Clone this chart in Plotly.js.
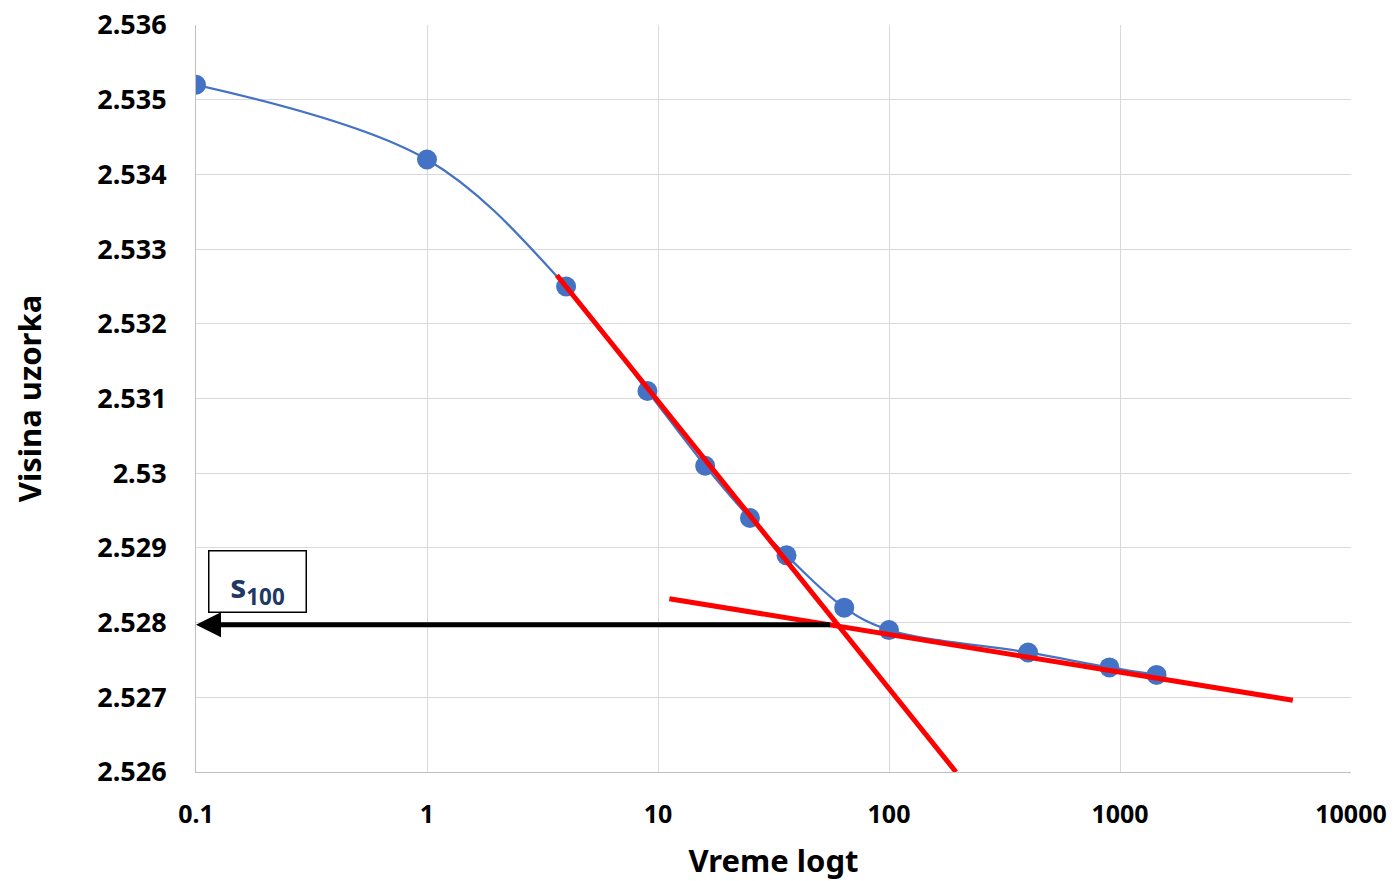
<!DOCTYPE html>
<html>
<head>
<meta charset="utf-8">
<script src="https://cdn.plot.ly/plotly-3.0.1.min.js"></script>
<style>html,body{margin:0;padding:0;background:#fff;}#chart{width:1395px;height:881px;}</style>
</head>
<body>
<div id="chart"></div>
<script>
// Data points (time, sample height)
const timeVals = [0.1, 1, 4, 9, 16, 25, 36, 64, 100, 400, 900, 1440];
const heightVals = [2.5352, 2.5342, 2.5325, 2.5311, 2.5301, 2.5294, 2.5289, 2.5282, 2.5279, 2.5276, 2.5274, 2.5273];

// Tangent lines (red)
const steepX = [3.65, 195];
const steepY = [2.53265, 2.526];
const flatX = [11.2, 5600];
const flatY = [2.52832, 2.52696];

// Arrow to s100
const arrowFromX = 57.3;
const arrowToX = 0.1;
const arrowY = 2.52797;

// Tick labels
const xTickVals = [0.1, 1, 10, 100, 1000, 10000];
const xTickText = ["0.1", "1", "10", "100", "1000", "10000"];
const yTickVals = [2.526, 2.527, 2.528, 2.529, 2.53, 2.531, 2.532, 2.533, 2.534, 2.535, 2.536];
const yTickText = ["2.526", "2.527", "2.528", "2.529", "2.53", "2.531", "2.532", "2.533", "2.534", "2.535", "2.536"];

const FONT = "Noto Sans, Open Sans, sans-serif";

const traces = [
  {
    x: timeVals, y: heightVals, type: 'scatter', mode: 'lines+markers',
    line: {color: '#4472C4', width: 2.25, shape: 'spline', smoothing: 1},
    marker: {color: '#4472C4', size: 20},
    showlegend: false, hoverinfo: 'x+y'
  },
  {
    x: steepX, y: steepY, type: 'scatter', mode: 'lines',
    line: {color: '#FF0000', width: 5},
    showlegend: false
  },
  {
    x: flatX, y: flatY, type: 'scatter', mode: 'lines',
    line: {color: '#FF0000', width: 5},
    showlegend: false
  }
];

const layout = {
  width: 1395, height: 881,
  margin: {l: 196, r: 44, t: 25, b: 109},
  paper_bgcolor: '#fff', plot_bgcolor: '#fff',
  font: {family: FONT, color: '#000'},
  xaxis: {
    type: 'log', range: [-1, 4],
    tickvals: xTickVals, ticktext: xTickText,
    tickfont: {family: FONT, size: 25, color: '#000', weight: 'bold'},
    showgrid: true, gridcolor: '#d9d9d9', gridwidth: 1,
    showline: true, linecolor: '#bfbfbf', linewidth: 1,
    ticks: 'outside', ticklen: 20, tickcolor: 'rgba(0,0,0,0)',
    zeroline: false,
    title: {text: 'Vreme logt', font: {family: FONT, size: 31, color: '#000', weight: 'bold'}, standoff: 22}
  },
  yaxis: {
    range: [2.526, 2.536],
    tickvals: yTickVals, ticktext: yTickText,
    tickfont: {family: FONT, size: 27, color: '#000', weight: 'bold'},
    showgrid: true, gridcolor: '#d9d9d9', gridwidth: 1,
    showline: true, linecolor: '#bfbfbf', linewidth: 1,
    ticks: 'outside', ticklen: 23, tickcolor: 'rgba(0,0,0,0)',
    zeroline: false,
    title: {text: 'Visina uzorka', font: {family: FONT, size: 31, color: '#000', weight: 'bold'}, standoff: 46}
  },
  annotations: [
    {
      x: Math.log10(arrowToX), y: arrowY, xref: 'x', yref: 'y',
      ax: Math.log10(arrowFromX), ay: arrowY, axref: 'x', ayref: 'y',
      showarrow: true, arrowhead: 2, arrowsize: 1, arrowwidth: 5, arrowcolor: '#000',
      text: ' '
    },
    {
      x: 0.0104, y: 0.297, xref: 'paper', yref: 'paper',
      xanchor: 'left', yanchor: 'top',
      text: '<b>s<sub>100</sub></b>', showarrow: false,
      font: {family: FONT, size: 32, color: '#1F3864', weight: 'bold'},
      bordercolor: '#000', borderwidth: 1.5, bgcolor: '#fff',
      width: 96, height: 60, borderpad: 0, align: 'center', valign: 'bottom'
    }
  ]
};

Plotly.newPlot('chart', traces, layout, {displayModeBar: false, staticPlot: true});
</script>
</body>
</html>
